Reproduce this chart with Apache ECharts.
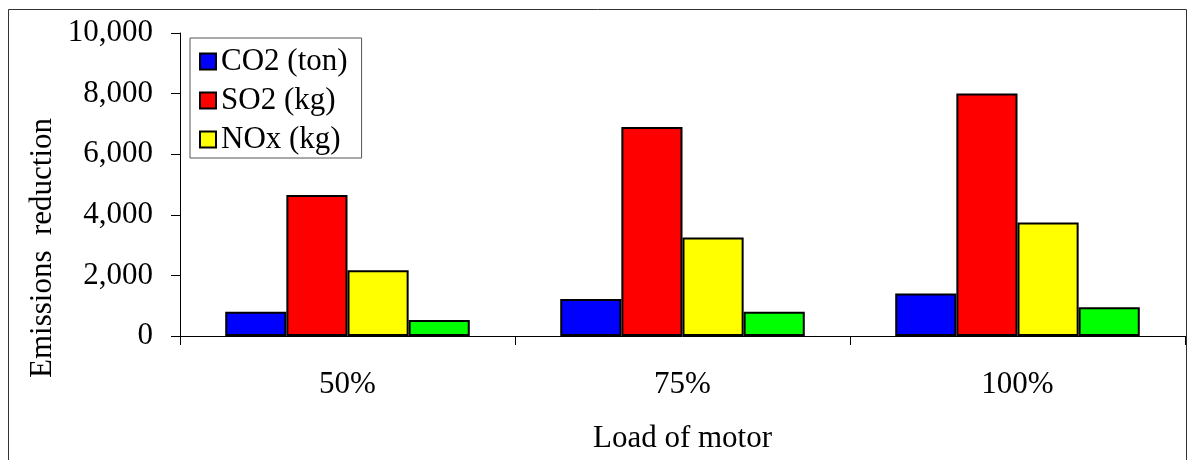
<!DOCTYPE html>
<html>
<head>
<meta charset="utf-8">
<title>Emissions reduction by load of motor</title>
<script src="https://cdn.jsdelivr.net/npm/echarts@6/dist/echarts.min.js"></script>
<style>
  html, body { margin: 0; padding: 0; background: #fff; }
  #chart { width: 1189px; height: 460px; }
</style>
</head>
<body>
<div id="chart"></div>
<script>
// Motor load levels on the category axis
const loads = ['50%', '75%', '100%'];

// Emissions reduction per load level
const co2Values = [800, 1220, 1400];     // ton
const so2Values = [4650, 6900, 8000];    // kg
const noxValues = [2170, 3250, 3750];    // kg
const otherValues = [530, 800, 950];     // unlabelled fourth series

// Y axis ticks
const yTicks = [0, 2000, 4000, 6000, 8000, 10000];

const FONT = '"Liberation Serif", "Times New Roman", serif';
const FS = 31;

const chart = echarts.init(document.getElementById('chart'), null, { renderer: 'canvas' });

function barSeries(name, values, color) {
  return {
    name: name,
    type: 'bar',
    data: values,
    barGap: '0%',
    barCategoryGap: '27%',
    itemStyle: { color: color, borderColor: '#000', borderWidth: 2 },
    emphasis: { disabled: true }
  };
}

chart.setOption({
  animation: false,
  backgroundColor: '#fff',
  textStyle: { fontFamily: FONT, color: '#000' },
  grid: {
    left: 180, right: 4, top: 33, bottom: 124,
    containLabel: false,
    outerBoundsMode: 'none'
  },
  legend: {
    data: ['CO2 (ton)', 'SO2 (kg)', 'NOx (kg)'],
    orient: 'vertical',
    left: 190,
    top: 38,
    padding: [8, 14, 3, 9],
    itemWidth: 16,
    itemHeight: 16,
    itemGap: 8,
    itemStyle: { borderColor: '#000', borderWidth: 2 },
    itemTextGap: 6,
    borderColor: '#555',
    borderWidth: 1,
    backgroundColor: '#fff',
    selectedMode: false,
    icon: 'rect',
    textStyle: { fontFamily: FONT, fontSize: FS, color: '#000', lineHeight: 31 }
  },
  xAxis: {
    type: 'category',
    data: loads,
    name: 'Load of motor',
    nameLocation: 'middle',
    nameGap: 87,
    nameTextStyle: { fontFamily: FONT, fontSize: FS, color: '#000' },
    axisLine: { lineStyle: { color: '#000', width: 1 } },
    axisTick: { show: true, length: 9, alignWithLabel: false, lineStyle: { color: '#000' } },
    axisLabel: { fontFamily: FONT, fontSize: FS, color: '#000', margin: 33 },
    splitLine: { show: false }
  },
  yAxis: {
    type: 'value',
    min: yTicks[0],
    max: yTicks[yTicks.length - 1],
    interval: yTicks[1] - yTicks[0],
    axisLine: { show: true, lineStyle: { color: '#000', width: 1 } },
    axisTick: { show: true, length: 9, lineStyle: { color: '#000' } },
    axisLabel: {
      fontFamily: FONT, fontSize: FS, color: '#000', margin: 27,
      formatter: v => v.toLocaleString('en-US')
    },
    splitLine: { show: false }
  },
  series: [
    barSeries('CO2 (ton)', co2Values, '#0000ff'),
    barSeries('SO2 (kg)', so2Values, '#ff0000'),
    barSeries('NOx (kg)', noxValues, '#ffff00'),
    barSeries('Other', otherValues, '#00ff00')
  ],
  graphic: [
    {
      type: 'rect',
      silent: true,
      z: -1,
      shape: { x: 8.5, y: 9.5, width: 1178, height: 470 },
      style: { fill: 'none', stroke: '#333', lineWidth: 1 }
    },
    {
      type: 'text',
      silent: true,
      x: 43,
      y: 248,
      rotation: Math.PI / 2,
      style: {
        text: 'Emissions  reduction',
        font: FS + 'px ' + FONT,
        fill: '#000',
        textAlign: 'center',
        textVerticalAlign: 'middle'
      }
    }
  ]
});
</script>
</body>
</html>
